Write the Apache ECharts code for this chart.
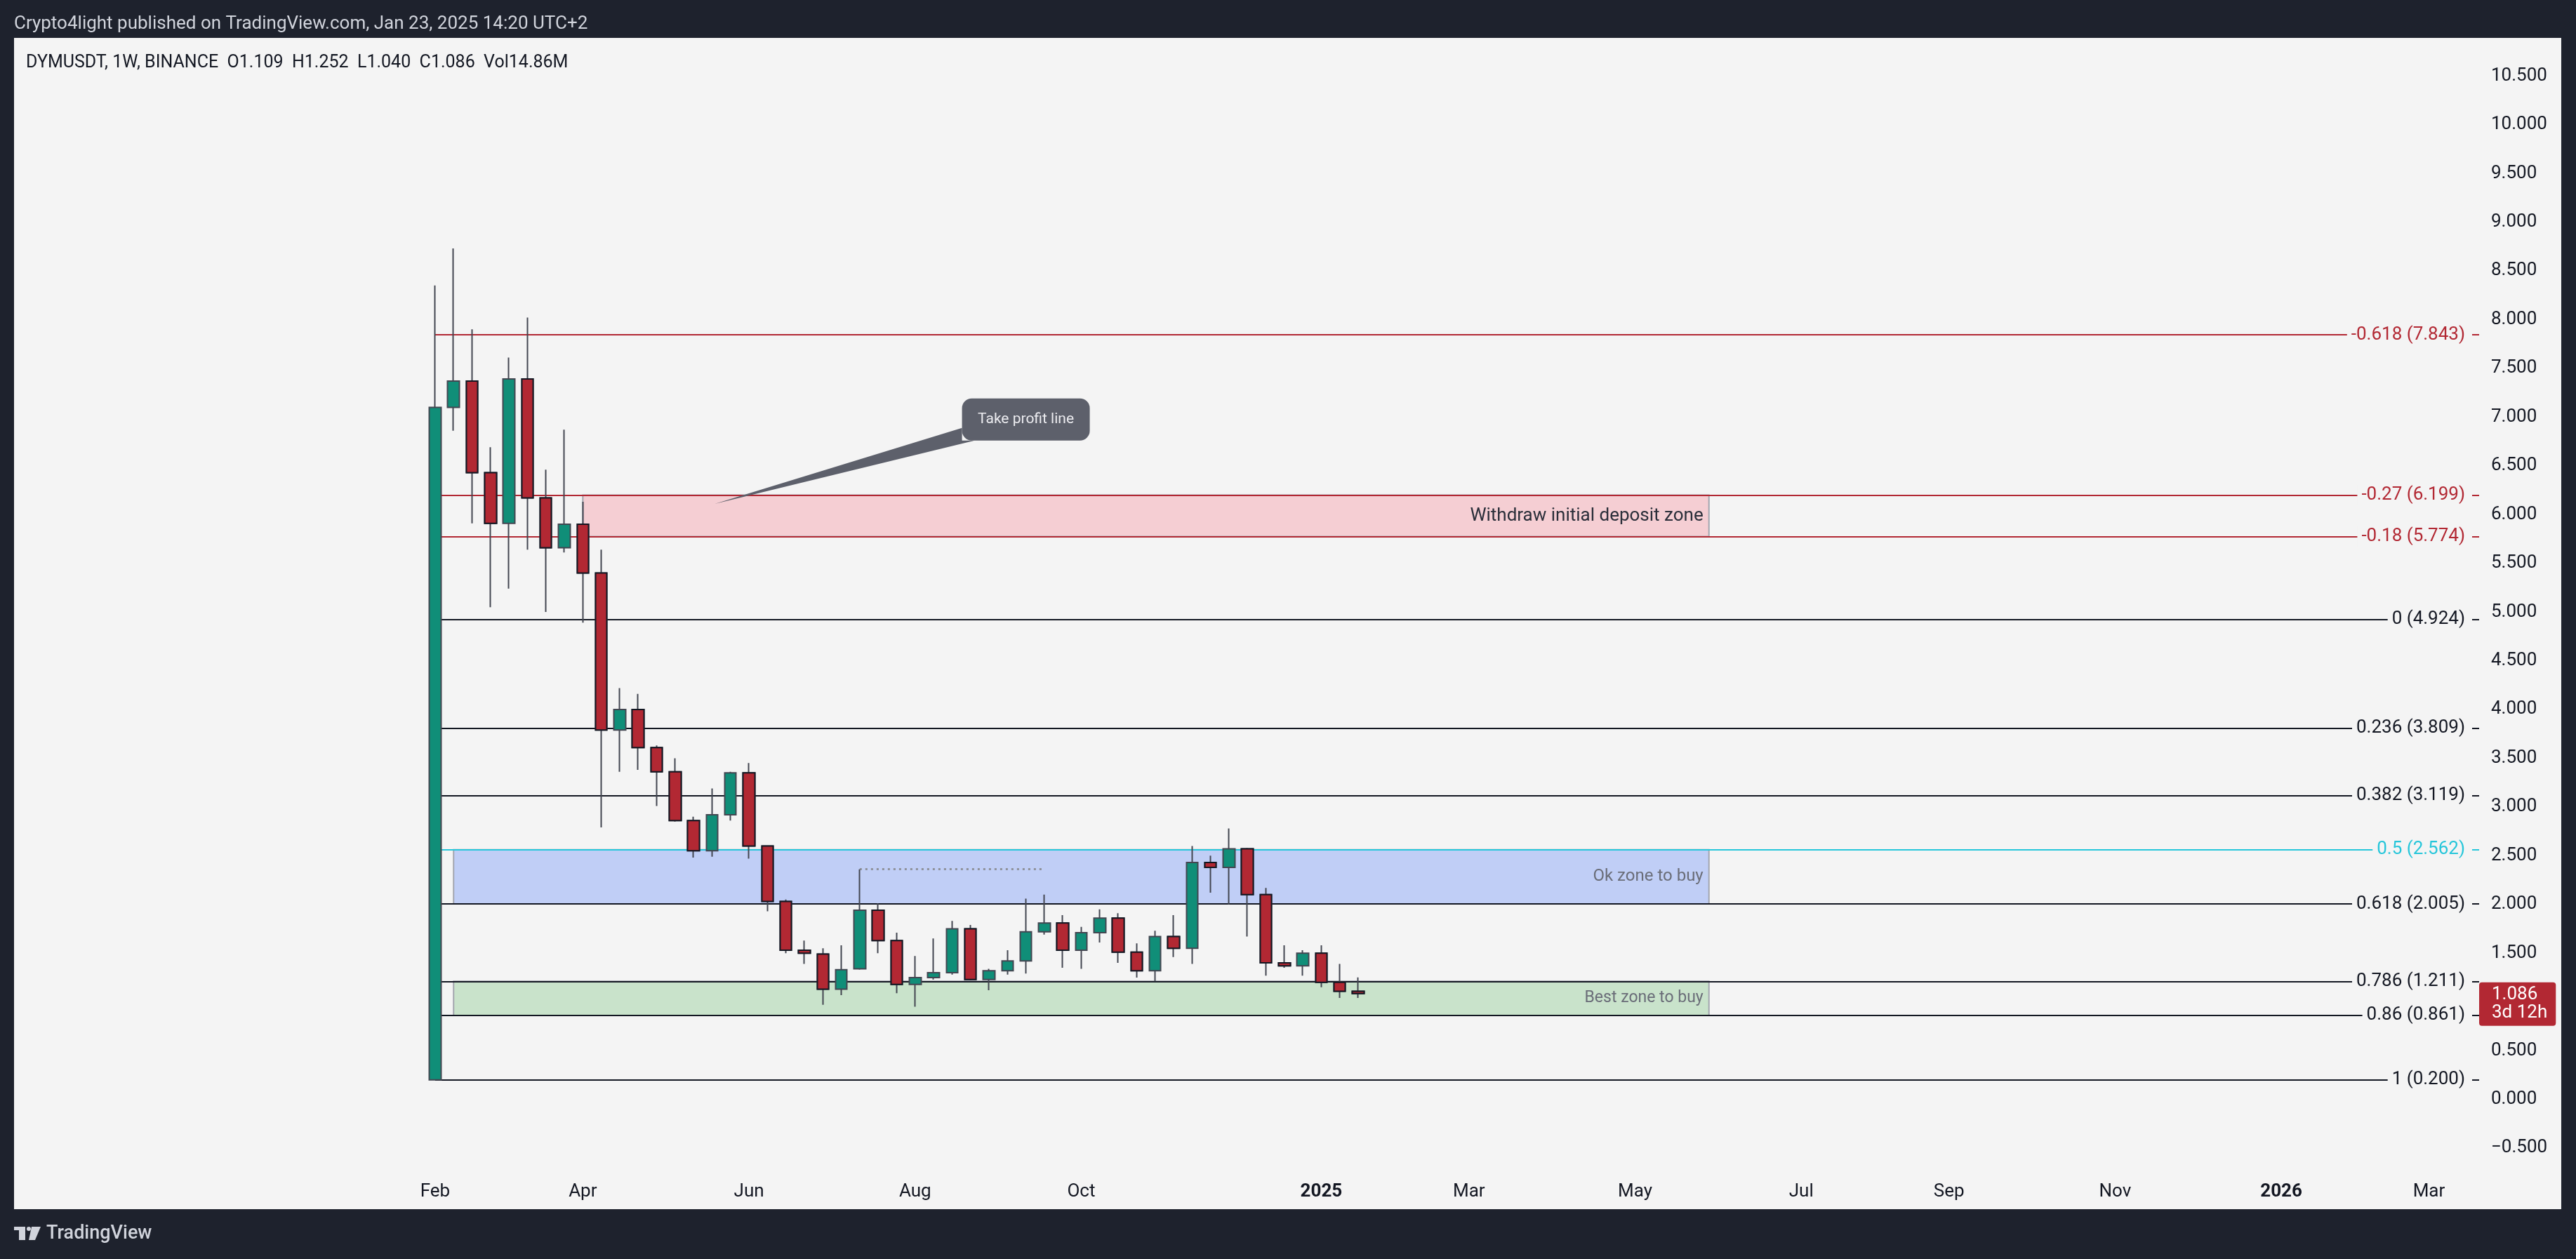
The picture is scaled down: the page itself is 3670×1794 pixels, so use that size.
<!DOCTYPE html>
<html>
<head>
<meta charset="utf-8">
<script src="https://cdn.jsdelivr.net/npm/echarts@6/dist/echarts.min.js"></script>
<style>
html,body{margin:0;padding:0;background:#1e222d;}
#chart{width:3670px;height:1794px;}
</style>
</head>
<body>
<div id="chart"></div>
<script>
// ---------- DATA ----------
const candleDates = [
  '2024-02-05','2024-02-12','2024-02-19','2024-02-26','2024-03-04','2024-03-11','2024-03-18','2024-03-25',
  '2024-04-01','2024-04-08','2024-04-15','2024-04-22','2024-04-29','2024-05-06','2024-05-13','2024-05-20',
  '2024-05-27','2024-06-03','2024-06-10','2024-06-17','2024-06-24','2024-07-01','2024-07-08','2024-07-15',
  '2024-07-22','2024-07-29','2024-08-05','2024-08-12','2024-08-19','2024-08-26','2024-09-02','2024-09-09',
  '2024-09-16','2024-09-23','2024-09-30','2024-10-07','2024-10-14','2024-10-21','2024-10-28','2024-11-04',
  '2024-11-11','2024-11-18','2024-11-25','2024-12-02','2024-12-09','2024-12-16','2024-12-23','2024-12-30',
  '2025-01-06','2025-01-13','2025-01-20'
];
const opens  = [0.20,7.10,7.37,6.43,5.91,7.39,6.17,5.66,5.90,5.40,3.79,4.00,3.61,3.36,2.86,2.55,2.92,3.35,2.60,2.03,1.53,1.49,1.13,1.34,1.94,1.63,1.18,1.25,1.30,1.75,1.23,1.32,1.42,1.72,1.81,1.53,1.71,1.86,1.51,1.32,1.67,1.55,2.43,2.38,2.57,2.10,1.40,1.37,1.50,1.20,1.109];
const closes = [7.10,7.37,6.43,5.91,7.39,6.17,5.66,5.90,5.40,3.79,4.00,3.61,3.36,2.86,2.55,2.92,3.35,2.60,2.03,1.53,1.50,1.13,1.33,1.94,1.63,1.18,1.25,1.30,1.75,1.23,1.32,1.42,1.72,1.81,1.53,1.71,1.86,1.51,1.32,1.67,1.55,2.43,2.38,2.57,2.10,1.40,1.37,1.50,1.20,1.109,1.086];
const lows   = [0.20,6.86,5.91,5.05,5.24,5.64,5.00,5.61,4.89,2.79,3.36,3.38,3.01,2.85,2.48,2.49,2.86,2.47,1.93,1.50,1.39,0.97,1.07,1.33,1.50,1.09,0.95,1.23,1.28,1.22,1.12,1.28,1.29,1.69,1.35,1.34,1.61,1.40,1.25,1.21,1.46,1.39,2.12,2.00,1.67,1.27,1.35,1.27,1.15,1.04,1.040];
const highs  = [8.35,8.73,7.90,6.69,7.61,8.02,6.46,6.87,6.13,5.64,4.22,4.16,3.63,3.50,2.90,3.19,3.36,3.45,2.60,2.05,1.63,1.55,1.58,2.36,2.01,1.71,1.47,1.65,1.83,1.79,1.34,1.53,2.06,2.10,1.89,1.77,1.95,1.91,1.60,1.73,1.89,2.60,2.50,2.78,2.58,2.17,1.58,1.53,1.58,1.39,1.252];
const lastVolume = '14.86M';
const barCountdown = '3d 12h';

const fibRatios = [-0.618, -0.27, -0.18, 0, 0.236, 0.382, 0.5, 0.618, 0.786, 0.86, 1];
const fibPrices = [7.843, 6.199, 5.774, 4.924, 3.809, 3.119, 2.562, 2.005, 1.211, 0.861, 0.200];

const monthTickDates  = ['2024-02-05','2024-04-01','2024-06-03','2024-08-05','2024-10-07','2025-01-06','2025-03-03','2025-05-05','2025-07-07','2025-09-01','2025-11-03','2026-01-05','2026-03-02'];
const monthTickLabels = ['Feb','Apr','Jun','Aug','Oct','2025','Mar','May','Jul','Sep','Nov','2026','Mar'];
const yTickValues = [-0.5,0,0.5,1,1.5,2,2.5,3,3.5,4,4.5,5,5.5,6,6.5,7,7.5,8,8.5,9,9.5,10,10.5];

const zoneNames      = ['Withdraw initial deposit zone', 'Ok zone to buy', 'Best zone to buy'];
const zoneStartDates = ['2024-04-01', '2024-02-12', '2024-02-12'];
const zoneEndDates   = ['2025-06-02', '2025-06-02', '2025-06-02'];
const zoneLows       = [5.774, 2.005, 0.861];
const zoneHighs      = [6.199, 2.562, 1.211];

const dottedFromDate = '2024-07-15';
const dottedToDate   = '2024-09-23';

const calloutTexts     = ['Take profit line'];
const calloutTipDates  = ['2024-05-21'];
const calloutTipPrices = [6.11];
const calloutBoxDates  = ['2024-09-16'];
const calloutBoxPrices = [6.975];

// ---------- HELPERS ----------
const WEEK = 7 * 86400000;
const ANCHOR = Date.parse(candleDates[0]);
const wk = d => (Date.parse(d) - ANCHOR) / WEEK;

const X_MIN = -22.81, X_MAX = 110.72;
const Y_MIN = -0.745, Y_MAX = 10.89;

const UP = '#108e78', DOWN = '#b22833';
const FONT = 'Roboto';

const candleData = candleDates.map((d, i) => [wk(d), opens[i], closes[i], lows[i], highs[i]]);
const downBodies = candleDates.map((d, i) => [wk(d), opens[i], closes[i], Math.min(opens[i], closes[i]), Math.max(opens[i], closes[i])])
  .filter((r, i) => closes[i] < opens[i]);

const monthWeeks = monthTickDates.map(wk);

function fibColor(r) { return r < 0 ? '#b22833' : (r === 0.5 ? '#26c6da' : '#131722'); }

const fibLines = fibRatios.map((r, i) => [
  {
    coord: [0, fibPrices[i]],
    lineStyle: { color: fibColor(r), width: 2, type: 'solid' },
    label: {
      show: true, position: 'insideEnd', distance: 10,
      formatter: r + ' (' + fibPrices[i].toFixed(3) + ')',
      color: fibColor(r), fontSize: 26, fontFamily: FONT,
      backgroundColor: '#f4f4f4', padding: [2, 10, 2, 6]
    }
  },
  { coord: [X_MAX, fibPrices[i]] }
]);

const dottedIdx = candleDates.indexOf(dottedFromDate);
const dottedLine = [
  { coord: [wk(dottedFromDate), highs[dottedIdx]], lineStyle: { color: '#8f929b', width: 3, type: [3, 5] }, label: { show: false } },
  { coord: [wk(dottedToDate), highs[dottedIdx]] }
];

const zoneFills = ['#f5ced3', '#c0cef6', '#c9e3cb'];
const zoneTextColors = ['#2a2e39', '#6a6d78', '#6a6d78'];
const zoneFontSizes = [26, 24, 23];
const zones = zoneNames.map((n, i) => [
  {
    name: n,
    coord: [wk(zoneStartDates[i]), zoneHighs[i]],
    itemStyle: { color: zoneFills[i], borderColor: '#a3a6af', borderWidth: 2 },
    label: { show: true, position: 'insideRight', distance: 9, color: zoneTextColors[i], fontSize: zoneFontSizes[i], fontFamily: FONT }
  },
  { coord: [wk(zoneEndDates[i]), zoneLows[i]] }
]);

const last = candleDates.length - 1;
const headerText = 'DYMUSDT, 1W, BINANCE  O' + opens[last].toFixed(3) + '  H' + highs[last].toFixed(3) +
  '  L' + lows[last].toFixed(3) + '  C' + closes[last].toFixed(3) + '  Vol' + lastVolume;

const chart = echarts.init(document.getElementById('chart'), null, { renderer: 'canvas' });

chart.setOption({
  animation: false,
  backgroundColor: '#1e222d',
  textStyle: { fontFamily: FONT },
  title: [
    { text: 'Crypto4light published on TradingView.com, Jan 23, 2025 14:20 UTC+2', left: 20, top: 21, padding: 0,
      textStyle: { color: '#d1d4dc', fontSize: 26, fontWeight: 'normal', fontFamily: FONT } },
    { text: headerText, left: 37, top: 77, padding: 0,
      textStyle: { color: '#131722', fontSize: 25, fontWeight: 'normal', fontFamily: FONT } }
  ],
  graphic: [
    { type: 'rect', left: 20, top: 54, z: -10, shape: { width: 3629, height: 1669 }, style: { fill: '#f4f4f4' } },
    { type: 'rect', left: 20, top: 1748, z: 10, shape: { width: 16, height: 5 }, style: { fill: '#d1d4dc' } },
    { type: 'rect', left: 27, top: 1748, z: 10, shape: { width: 9, height: 19 }, style: { fill: '#d1d4dc' } },
    { type: 'circle', left: 38, top: 1748, z: 10, shape: { r: 3 }, style: { fill: '#d1d4dc' } },
    { type: 'polygon', z: 10, shape: { points: [[45,1748],[58,1748],[50,1767],[41,1767]] }, style: { fill: '#d1d4dc' } },
    { type: 'text', left: 66, top: 1745, z: 10, style: { text: 'TradingView', fill: '#d1d4dc', fontSize: 27, fontFamily: FONT, fontWeight: 500 } }
  ],
  grid: { left: 20, right: 138, top: 54, bottom: 124, containLabel: false },
  xAxis: {
    type: 'value', min: X_MIN, max: X_MAX,
    axisLine: { show: false }, axisTick: { show: false }, splitLine: { show: false },
    axisLabel: {
      customValues: monthWeeks, margin: 15, fontSize: 26, color: '#131722', fontFamily: FONT,
      formatter: function (v) {
        const i = monthWeeks.findIndex(w => Math.abs(w - v) < 1e-6);
        if (i < 0) return '';
        const t = monthTickLabels[i];
        return /^\d{4}$/.test(t) ? '{y|' + t + '}' : t;
      },
      rich: { y: { fontWeight: 'bold', fontSize: 26, color: '#131722', fontFamily: FONT } }
    }
  },
  yAxis: {
    type: 'value', position: 'right', min: Y_MIN, max: Y_MAX, scale: true,
    axisLine: { show: false }, axisTick: { show: false }, splitLine: { show: false },
    axisLabel: {
      customValues: yTickValues, margin: 17, fontSize: 26, color: '#131722', fontFamily: FONT,
      formatter: v => (v < 0 ? '\u2212' + Math.abs(v).toFixed(3) : v.toFixed(3))
    }
  },
  series: [
    {
      name: 'levels', type: 'line', data: [], z: 1, silent: true,
      markArea: { silent: true, data: zones },
      markLine: { silent: true, symbol: 'none', data: fibLines.concat([dottedLine]) }
    },
    {
      name: 'DYMUSDT', type: 'candlestick', z: 10, barWidth: 17,
      encode: { x: 0, y: [1, 2, 3, 4] },
      data: candleData,
      itemStyle: { color: UP, color0: DOWN, borderColor: '#434651', borderColor0: '#434651', borderWidth: 2 },
      markPoint: {
        silent: true, symbol: 'rect', symbolSize: 0,
        data: [{
          coord: [X_MAX, closes[last]],
          label: {
            show: true, position: 'right', distance: 0, offset: [0, 15],
            formatter: closes[last].toFixed(3) + '\n' + barCountdown,
            color: '#ffffff', fontSize: 26, lineHeight: 26, fontFamily: FONT,
            backgroundColor: '#b22833', borderRadius: 4, padding: [5, 12, 5, 18], align: 'left'
          }
        }]
      }
    },
    {
      name: 'down-bodies', type: 'candlestick', z: 11, barWidth: 17, silent: true,
      encode: { x: 0, y: [1, 2, 3, 4] },
      data: downBodies,
      itemStyle: { color: UP, color0: DOWN, borderColor: '#131722', borderColor0: '#131722', borderWidth: 2 }
    },
    {
      name: 'callout', type: 'custom', z: 12, silent: true,
      coordinateSystem: 'cartesian2d',
      encode: { x: [0, 2], y: [1, 3] },
      data: calloutTexts.map((t, i) => [wk(calloutTipDates[i]), calloutTipPrices[i], wk(calloutBoxDates[i]), calloutBoxPrices[i]]),
      renderItem: function (params, api) {
        const tip = api.coord([api.value(0), api.value(1)]);
        const c = api.coord([api.value(2), api.value(3)]);
        const w = 182, h = 60;
        const fill = '#5d606b';
        return {
          type: 'group',
          children: [
            { type: 'polygon', shape: { points: [tip, [c[0] - w / 2, c[1] + 12], [c[0] - w / 2, c[1] + h / 2], [c[0] - w / 2 + 18, c[1] + h / 2]] }, style: { fill: fill } },
            { type: 'rect', shape: { x: c[0] - w / 2, y: c[1] - h / 2, width: w, height: h, r: 14 }, style: { fill: fill } },
            { type: 'text', style: { text: calloutTexts[params.dataIndex], x: c[0], y: c[1], align: 'center', verticalAlign: 'middle', fill: '#ebebef', fontSize: 21, fontFamily: FONT } }
          ]
        };
      }
    }
  ]
});
</script>
</body>
</html>
